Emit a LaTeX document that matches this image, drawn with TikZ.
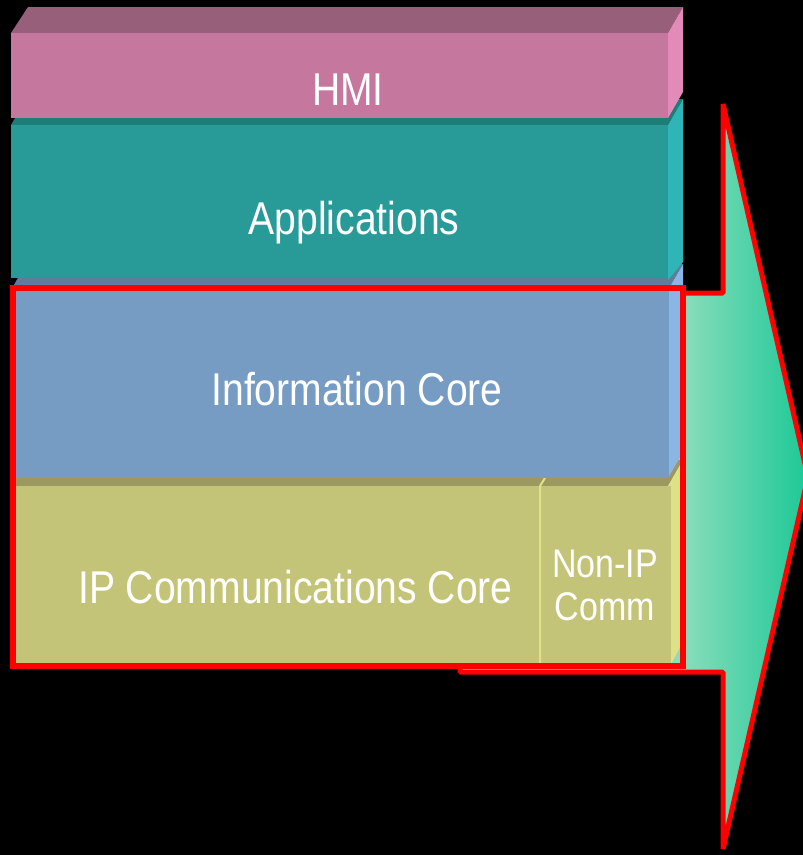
\documentclass[tikz,border=0pt]{standalone}
\usepackage{fontspec}
\newfontfamily\narrowfont{Liberation Sans}[FakeStretch=0.85]
\definecolor{hmifront}{HTML}{C5779D}
\definecolor{hmitop}{HTML}{985F7A}
\definecolor{hmiright}{HTML}{E28BB9}
\definecolor{appfront}{HTML}{289B99}
\definecolor{apptop}{HTML}{1F7D78}
\definecolor{appright}{HTML}{2FB5B5}
\definecolor{infofront}{HTML}{779CC3}
\definecolor{infotop}{HTML}{5D7E9B}
\definecolor{inforight}{HTML}{8BB5E3}
\definecolor{ipfront}{HTML}{C4C478}
\definecolor{iptop}{HTML}{9B9960}
\definecolor{ipright}{HTML}{E0E088}
\definecolor{arrowL}{HTML}{8ADDBB}
\definecolor{arrowR}{HTML}{1CC896}
\definecolor{outline}{HTML}{FF0000}
\tikzset{
  lbl/.style={text=white, inner sep=0pt, anchor=base, font=\narrowfont\fontsize{46}{50}\selectfont},
  smalllbl/.style={text=white, inner sep=0pt, anchor=base, font=\narrowfont\fontsize{40}{43}\selectfont},
  redline/.style={draw=outline, line width=6pt, line join=miter},
  arrowline/.style={draw=outline, line width=5pt, line join=bevel},
  divider/.style={draw=ipright, line width=2pt}
}
\begin{document}
\begin{tikzpicture}[x=1pt, y=-1pt]
\useasboundingbox (0,0) rectangle (803,855);
\fill[black] (0,0) rectangle (803,855);
% big arrow
\begin{scope}
\clip (460,293) -- (723,293) -- (723,104) -- (808,477) -- (723,849) -- (723,672) -- (460,672) -- cycle;
\fill[arrowL] (460,90) rectangle (808,860);
\shade[left color=arrowL, right color=arrowR] (683,90) rectangle (808,860);
\end{scope}
\draw[arrowline] (460,293) -- (723,293) -- (723,104) -- (808,477) -- (723,849) -- (723,672) -- (460,672) -- cycle;
% IP communications block
\fill[iptop] (11,486) -- (26,460) -- (683,460) -- (668,486) -- cycle;
\fill[ipright] (668,486) -- (683,460) -- (683,642) -- (670,666) -- cycle;
\fill[ipfront] (11,486) rectangle (671,666);
\draw[divider] (545,478) -- (540,486) -- (540,666);
% Information core block
\fill[infotop] (11,290) -- (26,264) -- (683,264) -- (668,290) -- cycle;
\fill[inforight] (668,290) -- (683,264) -- (683,452) -- (668,478) -- cycle;
\fill[infofront] (11,290) rectangle (669,478);
% Applications block
\fill[apptop] (11,125) -- (26,99) -- (683,99) -- (668,125) -- cycle;
\fill[appright] (668,125) -- (683,99) -- (683,262) -- (668,280) -- cycle;
\fill[appfront] (11,125) rectangle (668,278);
% HMI block
\fill[hmitop] (11,33) -- (28,7) -- (683,7) -- (668,33) -- cycle;
\fill[hmiright] (668,33) -- (683,7) -- (683,92) -- (668,118) -- cycle;
\fill[hmifront] (11,33) rectangle (668,118);
% red outline
\draw[redline] (13,288) rectangle (683,666);
% labels
\node[lbl] (hmi) at (348,105) {HMI};
\node[lbl] (apps) at (354,234) {Applications};
\node[lbl] (info) at (357,405) {Information Core};
\node[lbl] (ipcc) at (295.5,603) {IP Communications Core};
\node[smalllbl] (nonip) at (605,577) {Non-IP};
\node[smalllbl] (comm) at (605,620) {Comm};
\end{tikzpicture}
\end{document}
